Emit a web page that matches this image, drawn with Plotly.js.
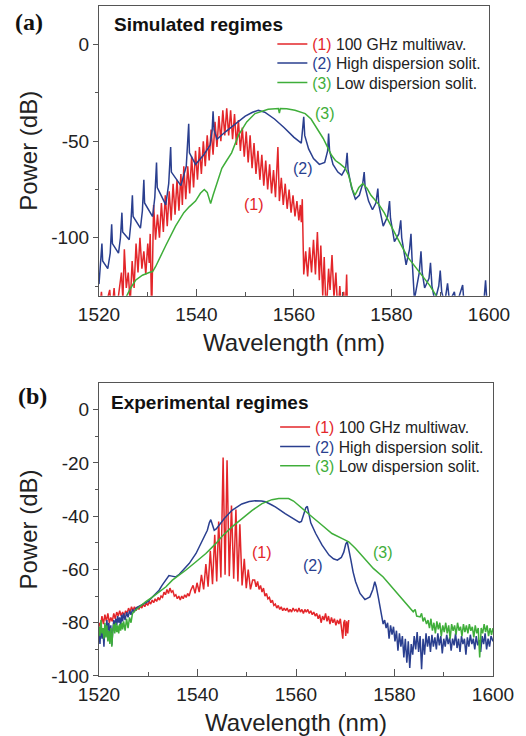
<!DOCTYPE html>
<html><head><meta charset="utf-8">
<script src="https://cdn.plot.ly/plotly-3.0.1.min.js"></script>
<style>html,body{margin:0;padding:0;background:#fff;}</style>
</head><body><div id="chart" style="width:526px;height:736px;"></div>
<script>
// ---------- shared tick labels ----------
const xTickVals = [1520, 1540, 1560, 1580, 1600];
const xTickText = ['1520', '1540', '1560', '1580', '1600'];
const xMinorVals = [1530, 1550, 1570, 1590];
const yTopTickVals = [0, -50, -100];
const yTopTickText = ['0', '-50', '-100'];
const yTopMinorVals = [-25, -75, -125];
const yBotTickVals = [0, -20, -40, -60, -80, -100];
const yBotTickText = ['0', '-20', '-40', '-60', '-80', '-100'];
const yBotMinorVals = [-10, -30, -50, -70, -90];

const seriesNames = [
  '<span style="color:#e3262a">(1)</span> 100 GHz multiwav.',
  '<span style="color:#2a3f8f">(2)</span> High dispersion solit.',
  '<span style="color:#3fae3a">(3)</span> Low dispersion solit.'
];

// ---------- (a) simulated: red (1) ----------
const simRedX = [1520.0,1520.5,1520.9,1522.2,1522.6,1523.1,1523.5,1524.6,1524.9,1525.2,1525.6,1526.0,1526.4,1526.8,1527.2,1527.6,1528.0,1528.4,1528.8,1529.2,1529.6,1530.0,1530.3,1530.5,1530.8,
 1531.2,1531.6,1532.0,1532.4,1532.8,1533.2,1533.6,1534.0,1534.4,1534.8,1535.2,1535.6,1536.0,1536.4,1536.8,1537.1,1537.4,1537.8,1538.2,1538.6,1539.0,1539.4,1539.8,1540.2,
 1540.6,1541.0,1541.4,1541.8,1542.2,1542.6,1543.0,1543.4,1543.8,1544.2,1544.6,1545.0,1545.4,1545.8,1546.2,1546.6,1547.0,1547.4,1547.8,1548.2,1548.6,1549.0,1549.4,1549.8,
 1550.2,1550.6,1551.0,1551.4,1551.8,1552.2,1552.6,1553.0,1553.4,1553.8,1554.2,1554.6,1555.0,1555.4,1555.8,1556.2,1556.7,1557.0,1557.4,1557.8,1558.2,1558.6,1559.0,1559.4,
 1559.8,1560.2,1560.6,1561.0,1561.3,1561.5,1561.7,1562.0,1562.4,1562.8,1563.2,1563.6,1564.0,1564.4,1564.8,1565.2,1565.5,1565.9,1566.2,1566.6,1567.1,1567.4,1567.8,1568.2,
 1568.6,1569.0,1569.4,1569.8,1570.2,1570.5,1570.8,1571.0];
const simRedY = [-140,-128,-140,-127,-140,-126,-140,-118,-132,-106,-126,-118,-134,-112,-126,-103,-118,-100,-116,-107,-119,-103,-113,-98,-140,
 -83,-101,-88,-100,-82,-97,-78,-94,-76,-91,-72,-88,-70,-86,-67,-83,-63,-80,-63,-77,-58,-74,-55,-70,
 -53,-67,-50,-63,-47,-60,-44,-57,-40,-53,-37,-50,-34,-47,-33,-47,-34,-49,-36,-52,-39,-55,-43,-58,
 -45,-61,-47,-64,-51,-67,-55,-70,-57,-73,-60,-75,-62,-77,-65,-79,-53,-81,-69,-83,-72,-85,-75,-87,
 -78,-89,-81,-91,-83,-92,-80,-119,-107,-120,-105,-118,-101,-119,-97,-122,-104,-130,-110,-140,-116,-127,-109,-131,
 -118,-140,-125,-140,-128,-140,-119,-140];

// ---------- (a) simulated: blue (2) ----------
const simBlueX = [1520.0,1520.6,1520.75,1521.8,1522.3,1522.6,1522.75,1524.0,1524.4,1524.7,1524.85,1526.2,1526.55,1526.85,1527.0,1528.5,1528.9,1529.2,1529.35,1531.0,
 1531.45,1531.8,1531.95,1533.7,1534.3,1534.7,1534.85,1536.8,1537.9,1538.4,1538.55,1539.8,1541.5,1542.8,1543.2,1543.4,1543.6,1544.2,1546.0,1548.0,
 1550.0,1551.5,1552.7,1554.0,1556.0,1558.0,1560.0,1561.5,1562.0,1562.2,1563.0,1564.0,1565.2,1566.3,1566.9,1567.1,1567.3,1568.0,1569.0,1569.8,
 1570.6,1570.9,1571.1,1571.8,1572.6,1573.4,1574.1,1574.4,1574.6,1575.3,1576.1,1576.8,1577.2,1577.4,1578.3,1579.2,1579.6,1579.8,1580.6,1581.5,
 1581.9,1582.1,1583.0,1583.7,1584.0,1584.2,1584.7,1585.7,1586.05,1586.3,1586.8,1587.7,1588.0,1588.3,1588.9,1589.7,1590.0,1590.3,1590.9,1591.5,
 1591.9,1592.9,1593.3,1594.6,1595.0,1598.8,1599.3,1599.6,1600.0];
const simBlueY = [-124,-103,-112,-116,-108,-93,-103,-108,-100,-87,-97,-101,-92,-78,-89,-95,-86,-70,-82,-89,
 -79,-61,-74,-83,-72,-53,-66,-73,-63,-41,-56,-62,-57,-52,-45,-34.5,-44,-49,-45,-41,
 -37,-35,-34,-35,-38.5,-43,-48,-51,-37.4,-47,-54,-59,-62,-61,-55,-46,-55,-62,-66,-67.6,
 -64,-56,-65,-74,-80,-78,-72,-66,-74,-81,-85.5,-82,-74.5,-83,-94,-89,-81,-90,-102,-98,
 -91,-100,-114,-106,-98,-110,-132,-118,-107,-118,-126,-121,-113,-125,-133,-125,-117,-128,-134,-123.6,
 -133,-128,-135,-124.5,-138,-138,-122,-134,-135];

// ---------- (a) simulated: green (3) ----------
const simGreenX = [1525.5,1526.5,1527.5,1528.9,1530.3,1531.0,1531.6,1532.5,1533.7,1535.7,1537.4,1538.5,1539.8,1540.8,1541.6,1542.2,1542.9,1543.4,1543.9,1545.2,
 1546.2,1547.2,1548.6,1550.3,1552.0,1554.7,1556.8,1557.0,1557.2,1558.5,1560.2,1562.3,1563.5,1564.3,1566.0,1567.7,1568.5,1569.4,1570.5,1571.2,
 1572.0,1572.5,1573.3,1574.1,1575.0,1575.8,1577.5,1578.5,1579.6,1581.6,1583.3,1585.7,1587.8,1589.1,1590.0];
const simGreenY = [-131,-126,-122,-119.4,-118,-117.5,-115,-110,-104,-94,-87,-84,-81,-77,-75,-76.5,-82.3,-78,-74,-64,
 -60,-56,-47,-40,-35.7,-33.5,-33.1,-35.5,-33.1,-33.2,-34,-35.7,-38.5,-41.7,-48.6,-57.3,-60,-61.6,-64,-67.6,
 -75,-78,-74,-71.9,-74.5,-78,-83.1,-87,-92.6,-102,-109.9,-117.6,-124.5,-129.7,-134];

// ---------- (b) experimental: red (1) ----------
const expRedX = [1520.0,1520.3,1520.6,1520.9,1521.2,1521.5,1521.8,1522.1,1522.4,1522.7,1523.0,1523.3,1523.6,1523.9,1524.2,1524.5,1524.8,1525.1,1525.4,1525.7,
 1526.0,1526.3,1526.6,1526.9,1527.2,1527.5,1527.8,1528.1,1528.4,1528.7,1529.0,1529.3,1529.6,1529.9,1530.2,1530.5,1530.8,1531.1,1531.4,1531.7,
 1532.0,1532.3,1532.6,1532.9,1533.2,1533.5,1533.8,1534.1,1534.4,1534.7,1535.0,1535.3,1535.6,1535.9,1536.2,1536.5,1536.8,1537.1,1537.4,1537.7,
 1538.0,1538.3,1538.6,
 1539.1,1539.5,1539.9,1540.35,1540.8,1541.25,1541.7,1542.15,1542.6,1543.05,1543.5,1543.9,1544.3,1544.75,1545.2,1545.6,1546.0,1546.45,1546.9,1547.35,
 1547.8,1548.2,1548.6,1549.05,1549.5,1549.9,1550.3,1550.75,1551.2,
 1551.6,1551.9,1552.2,1552.5,1552.8,1553.1,1553.4,1553.7,1554.0,1554.3,1554.6,1554.9,1555.2,1555.5,1555.8,1556.1,1556.4,1556.7,1557.0,1557.3,
 1557.6,1557.9,1558.2,1558.5,1558.8,1559.1,1559.4,1559.7,1560.0,1560.3,1560.6,1560.9,1561.2,1561.5,1561.8,1562.1,1562.4,1562.7,1563.0,1563.3,
 1563.6,1563.9,1564.2,1564.5,1564.8,1565.1,1565.4,1565.7,1566.0,1566.3,1566.6,1566.9,1567.2,1567.5,1567.8,1568.1,1568.4,1568.7,1569.0,1569.3,
 1569.5,1569.7,1569.9,1570.1,1570.3,1570.5,1570.7];
const expRedY = [-80,-82,-77.5,-80.5,-77,-79.5,-76.5,-80,-78,-79.5,-76.5,-78.5,-76,-77.5,-75.5,-77.5,-76,-77.5,-75.5,-76.5,
 -74.5,-76,-74,-75.5,-74,-75.5,-74,-75,-73.5,-74.5,-73,-74,-72.5,-73.5,-72,-73,-71.5,-72.5,-71,-72,
 -70.5,-71.5,-70,-70.5,-68.5,-69.5,-67.5,-69,-67,-68.5,-68,-70,-69.5,-71,-70,-71.5,-70,-71,-69.5,-70.5,
 -69,-70,-68,
 -66,-69,-65,-68.5,-62,-67.5,-58,-66.5,-53,-65.5,-47,-64.5,-42,-63,-18,-62,-19,-62.5,-36,-63.5,
 -37.5,-64.5,-43,-66,-56,-67,-60,-67.5,-64,
 -64,-66.5,-64.5,-67.5,-66,-68.5,-67,-70,-69,-71,-70.5,-72.5,-71.5,-73.5,-73,-74.5,-73.5,-75,-74,-75.5,
 -74.5,-75.5,-74.5,-76,-75,-76,-74.5,-75.5,-75,-76,-74.5,-76,-75,-76.5,-75,-76,-75,-76.5,-75.5,-77,
 -76,-77.5,-76.5,-78.5,-77,-80,-77.5,-79,-76.5,-79.5,-77.5,-80.5,-78,-80,-78.5,-81,-79,-80.5,-78.5,-82,
 -86,-80,-79,-85,-79.5,-84,-79];

// ---------- (b) experimental: blue (2) ----------
const expBlueX = [1520.0,1520.2,1520.4,1520.6,1520.8,1521.0,1521.2,1521.4,1521.6,1521.8,1522.0,1522.2,1522.4,1522.6,1522.8,1523.0,1523.2,1523.4,1523.6,1523.8,
 1524.0,1524.2,1524.4,1524.6,1524.8,1525.0,1525.3,1525.6,1525.9,1526.2,1526.5,1526.8,1527.1,1527.5,1528.0,1528.5,1529.0,1529.5,1530.0,1530.5,
 1531.0,1531.5,1532.2,1532.8,1533.6,1534.2,1534.8,1535.6,1536.3,1537.0,1538.3,1539.7,1541.0,1542.0,1542.4,1542.7,1543.0,1543.4,1543.8,1544.4,
 1545.4,1547.0,1549.0,1550.5,1551.7,1553.0,1553.8,1555.0,1555.8,1557.8,1559.9,1560.7,1561.1,1561.6,1562.0,1562.3,1562.6,1563.0,1564.0,1565.3,
 1566.7,1567.6,1568.4,1569.2,1569.7,1570.1,1570.4,1570.7,1571.1,1571.6,1572.1,1573.0,1574.0,1575.0,1575.6,1576.0,1576.3,1576.7,1577.1,1577.4,
 1577.7,1578.0,1578.3,1578.6,1578.9,1579.2,1579.5,1579.8,1580.1,1580.4,1580.7,1581.0,1581.3,1581.6,1581.9,1582.2,1582.5,1582.8,1583.1,1583.4,
 1583.7,1584.0,1584.3,1584.6,1584.9,1585.2,1585.5,1585.8,1586.1,1586.4,1586.7,1587.0,1587.3,1587.6,1587.9,1588.2,1588.5,1588.8,1589.1,1589.4,
 1589.7,1590.0,1590.3,1590.6,1590.9,1591.2,1591.5,1591.8,1592.1,1592.4,1592.7,1593.0,1593.3,1593.6,1593.9,1594.2,1594.5,1594.8,1595.1,1595.4,
 1595.7,1596.0,1596.3,1596.6,1596.9,1597.2,1597.5,1597.8,1598.1,1598.4,1598.7,1599.0,1599.3,1599.6,1600.0];
const expBlueY = [-84,-88,-80,-86,-82,-89,-81,-84,-79,-83,-80,-85,-81,-88.5,-83,-79,-82,-78.5,-81,-77.5,
 -80,-78,-81.5,-77,-79.5,-76.5,-79,-76,-78,-75.5,-77,-75,-76,-74.5,-74,-73.5,-73,-72.5,-72,-71,
 -70,-69,-67.8,-66,-64,-62.3,-62.5,-62.8,-61.8,-60.5,-57.8,-54,-49,-45.3,-42.5,-41.3,-43,-45.3,-44.8,-43.4,
 -41,-37.8,-35.4,-34.5,-34.2,-34.3,-34.6,-35.7,-36.5,-39,-41.5,-42.3,-42,-39,-36.8,-36.3,-39,-42.5,-46.5,-50.9,
 -54.6,-56,-56.5,-55.5,-53.5,-50.5,-49.6,-53,-56,-61,-64.6,-69,-71.3,-70.3,-67.5,-64.6,-66.5,-70.3,-75,-77.8,
 -80.5,-79,-82,-80,-86,-81,-84.5,-81.5,-87,-83,-90.5,-84,-89,-85,-93,-86,-95,-87,-97,-88,
 -92,-85,-90,-83.5,-91,-85,-97.5,-86,-92,-84,-89,-85,-91,-84.5,-89,-85.5,-90,-84,-88.5,-85,
 -91.5,-86,-89,-84.5,-88,-85.5,-90.5,-86,-88.5,-84,-89.5,-86,-91,-85,-88,-86,-92,-85.5,-89,-84.5,
 -88,-86,-90,-85,-88.5,-86.5,-91,-85,-88,-84,-90,-86,-89,-85,-87];

// ---------- (b) experimental: green (3) ----------
const expGreenX = [1520.0,1520.2,1520.4,1520.6,1520.8,1521.0,1521.2,1521.4,1521.6,1521.8,1522.0,1522.2,1522.4,1522.6,1522.8,1523.0,1523.2,1523.4,1523.6,1523.8,
 1524.0,1524.2,1524.4,1524.6,1524.8,1525.0,1525.3,1525.6,1525.9,1526.2,1526.5,1526.8,1527.3,1528.2,1529.5,1530.9,1532.2,1533.6,1534.9,1536.3,
 1537.6,1539.7,1541.7,1543.7,1545.0,1547.0,1549.0,1551.1,1553.1,1555.1,1556.5,1558.5,1559.5,1561.2,1563.3,1565.3,1567.3,1569.4,1570.7,1572.1,
 1573.6,1575.7,1577.7,1579.7,1581.8,1583.8,1584.2,1584.5,1585.2,1585.5,1585.8,1586.1,1586.5,1586.8,1587.1,1587.4,1587.7,1588.0,1588.3,1588.6,
 1588.9,1589.2,1589.5,1589.8,1590.1,1590.4,1590.7,1591.0,1591.3,1591.6,1591.9,1592.2,1592.5,1592.8,1593.1,1593.4,1593.7,1594.0,1594.3,1594.6,
 1594.9,1595.2,1595.5,1595.8,1596.1,1596.4,1596.7,1597.0,1597.3,1597.6,1597.9,1598.2,1598.5,1598.8,1599.1,1599.4,1599.7,1600.0];
const expGreenY = [-81.5,-85,-79,-84,-82,-86,-80,-85.5,-81,-87,-83,-88,-82,-89,-83,-80.5,-84,-80,-83.5,-81,
 -84,-80.5,-83,-80,-82.5,-79.5,-83,-78.5,-82,-78,-80,-76.5,-75.5,-74,-72.1,-70.3,-68.4,-66.5,-64,-62.1,
 -60.3,-57.1,-54,-50.3,-47.5,-44,-40.9,-37.8,-35.3,-33.8,-33.4,-33.4,-34.3,-37.1,-40.3,-43.4,-46.5,-48.4,-49.6,-52.1,
 -55.3,-59.6,-62.8,-67.1,-71.5,-75.9,-75,-77.5,-77.8,-76.5,-79.5,-78,-80.5,-79,-82,-78.5,-83,-80,-84,-79.5,
 -82.5,-80,-85,-81,-83.5,-80,-84,-81,-86,-80.5,-83,-81,-84.5,-80,-83,-81.5,-85,-80.5,-83.5,-81,
 -84,-80.5,-83,-81.5,-85.5,-81,-84,-82,-93,-82,-84,-80.5,-83.5,-81,-85,-82,-84.5,-82];

// ---------- build figure ----------
const RED = '#e3262a', BLUE = '#2a3f8f', GREEN = '#3fae3a';
function tr(x, y, color, name, xa, ya, leg) {
  return {x: x, y: y, type: 'scatter', mode: 'lines', name: name,
          line: {color: color, width: 1.5}, xaxis: xa, yaxis: ya, legend: leg};
}
const data = [
  tr(simRedX, simRedY, RED, seriesNames[0], 'x', 'y', 'legend'),
  tr(simBlueX, simBlueY, BLUE, seriesNames[1], 'x', 'y', 'legend2'),
  tr(simGreenX, simGreenY, GREEN, seriesNames[2], 'x', 'y', 'legend3'),
  tr(expRedX, expRedY, RED, seriesNames[0], 'x2', 'y2', 'legend4'),
  tr(expBlueX, expBlueY, BLUE, seriesNames[1], 'x2', 'y2', 'legend5'),
  tr(expGreenX, expGreenY, GREEN, seriesNames[2], 'x2', 'y2', 'legend6')
];

const AX = '#555';
function xAxis(domain, anchor) {
  return {domain: domain, anchor: anchor, range: [1520, 1600], tickmode: 'array',
    tickvals: xTickVals, ticktext: xTickText, ticks: 'inside', ticklen: 7, tickcolor: AX,
    minor: {tickmode: 'array', tickvals: xMinorVals, ticks: 'inside', ticklen: 4, tickcolor: AX},
    showline: true, mirror: true, linecolor: AX, linewidth: 1, showgrid: false, zeroline: false,
    tickfont: {size: 19, color: '#222'}, ticklabelstandoff: 1,
    title: {text: 'Wavelength (nm)', font: {size: 24, color: '#222'}, standoff: 10}};
}
function yAxis(domain, anchor, range, tv, tt, mv) {
  return {domain: domain, anchor: anchor, range: range, tickmode: 'array',
    tickvals: tv, ticktext: tt, ticks: 'outside', ticklen: 5, tickcolor: AX,
    minor: {tickmode: 'array', tickvals: mv, ticks: 'outside', ticklen: 3, tickcolor: AX},
    showline: true, mirror: true, linecolor: AX, linewidth: 1, showgrid: false, zeroline: false,
    tickfont: {size: 19, color: '#222'},
    title: {text: 'Power (dB)', font: {size: 24, color: '#222'}, standoff: 6}};
}
function leg(x, y) {
  return {x: x, y: y, xanchor: 'left', yanchor: 'middle', bgcolor: 'rgba(0,0,0,0)',
    font: {size: 15.7, color: '#222'}, tracegroupgap: 0, itemwidth: 30};
}
function ann(x, y, xref, yref, text, size, color, bold, family, xanchor) {
  return {x: x, y: y, xref: xref, yref: yref, text: bold ? '<b>' + text + '</b>' : text,
    showarrow: false, xanchor: xanchor || 'center', yanchor: 'middle',
    font: {size: size, color: color, family: family || 'Liberation Sans, Arial, sans-serif'}};
}
const SERIF = 'Liberation Serif, Times New Roman, serif';
const layout = {
  width: 526, height: 736,
  margin: {l: 99, r: 33, t: 6, b: 60},
  paper_bgcolor: '#fff', plot_bgcolor: '#fff',
  font: {family: 'Liberation Sans, Arial, sans-serif', color: '#222'},
  showlegend: true,
  xaxis: xAxis([0, 0.9898], 'y'),
  yaxis: yAxis([0.5676, 1], 'x', [-130, 20], yTopTickVals, yTopTickText, yTopMinorVals),
  xaxis2: xAxis([0, 1], 'y2'),
  yaxis2: yAxis([0, 0.4373], 'x2', [-100, 10], yBotTickVals, yBotTickText, yBotMinorVals),
  legend: leg(0.44, 0.9428),
  legend2: leg(0.44, 0.9145),
  legend3: leg(0.44, 0.8855),
  legend4: leg(0.447, 0.3712),
  legend5: leg(0.447, 0.3422),
  legend6: leg(0.447, 0.3134),
  annotations: [
    ann(-0.178, 0.976, 'paper', 'paper', '(a)', 24, '#111', true, SERIF),
    ann(-0.170, 0.418, 'paper', 'paper', '(b)', 24, '#111', true, SERIF),
    ann(0.033, 0.973, 'paper', 'paper', 'Simulated regimes', 19, '#111', true, null, 'left'),
    ann(0.025, 0.4085, 'paper', 'paper', 'Experimental regimes', 19, '#111', true, null, 'left'),
    ann(1551.7, -82.6, 'x', 'y', '(1)', 16, RED),
    ann(1561.8, -64, 'x', 'y', '(2)', 16, BLUE),
    ann(1566.3, -35.5, 'x', 'y', '(3)', 16, GREEN),
    ann(1553.1, -53.6, 'x2', 'y2', '(1)', 16, RED),
    ann(1563.5, -58.4, 'x2', 'y2', '(2)', 16, BLUE),
    ann(1577.7, -53.6, 'x2', 'y2', '(3)', 16, GREEN)
  ]
};
Plotly.newPlot('chart', data, layout, {displayModeBar: false, staticPlot: true});
</script></body></html>
